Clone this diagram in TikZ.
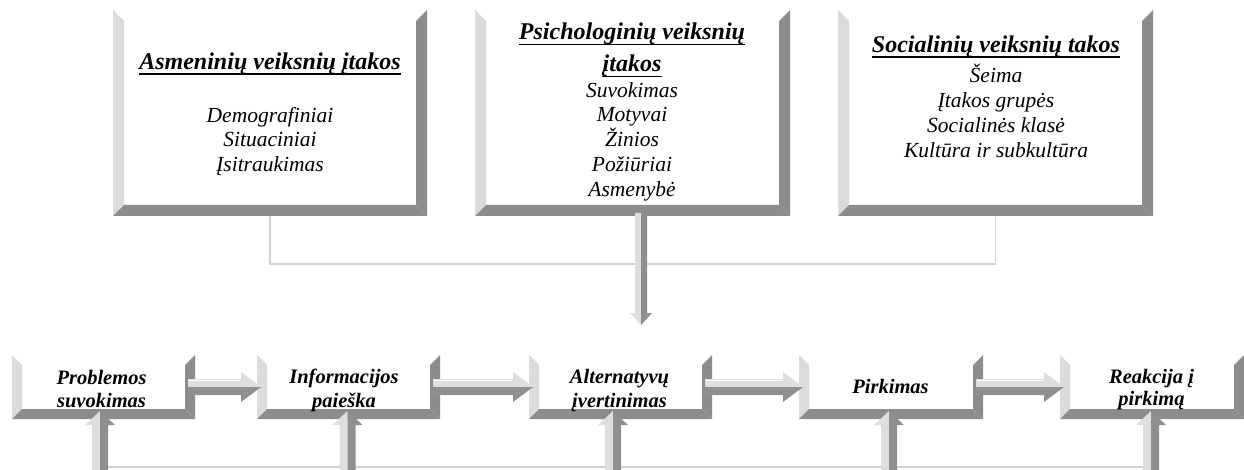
\documentclass[tikz,border=0pt]{standalone}
\usepackage{fontspec}
\setmainfont{Liberation Serif}
\usetikzlibrary{calc}
\definecolor{bvdark}{gray}{0.55}
\definecolor{bvlight}{gray}{0.86}
\definecolor{arlight}{gray}{0.87}
\definecolor{ardark}{gray}{0.56}
\definecolor{conn}{gray}{0.82}

% bevelled panel: #1 node name, #2 bevel depth (with unit)
\newcommand\bevelpanel[2]{%
  \fill[bvlight] (#1.north west) -- ([shift={(#2,-#2)}]#1.north west) -- ([shift={(#2,#2)}]#1.south west) -- (#1.south west) -- cycle;
  \fill[bvdark] (#1.north east) -- ([shift={(-#2,-#2)}]#1.north east) -- ([shift={(-#2,#2)}]#1.south east) -- (#1.south east) -- cycle;
  \fill[bvdark] (#1.south west) -- ([shift={(#2,#2)}]#1.south west) -- ([shift={(-#2,#2)}]#1.south east) -- (#1.south east) -- cycle;
}
% 3D arrows
\newcommand\arrowright[2]{%
  \fill[arlight] let \p1=(#1), \p2=(#2) in (\x1,\y1+8pt) -- (\x2-20pt,\y1+8pt) -- (\x2-20pt,\y1+15pt) -- (\x2,\y1) -- (\x1,\y1) -- cycle;
  \fill[ardark] let \p1=(#1), \p2=(#2) in (\x1,\y1-8pt) -- (\x2-20pt,\y1-8pt) -- (\x2-20pt,\y1-15pt) -- (\x2,\y1) -- (\x1,\y1) -- cycle;
  \draw[white, line width=1pt] let \p1=(#1), \p2=(#2) in (\x1+1pt,\y1+7pt) -- (\x2-21pt,\y1+7pt);
}
\newcommand\arrowup[2]{%
  \fill[arlight] let \p1=(#1), \p2=(#2) in (\x1-8pt,\y1) -- (\x1-8pt,\y2-14pt) -- (\x1-15pt,\y2-14pt) -- (\x1,\y2) -- (\x1,\y1) -- cycle;
  \fill[ardark] let \p1=(#1), \p2=(#2) in (\x1+8pt,\y1) -- (\x1+8pt,\y2-14pt) -- (\x1+15pt,\y2-14pt) -- (\x1,\y2) -- (\x1,\y1) -- cycle;
}
\newcommand\arrowdown[2]{%
  \fill[arlight] let \p1=(#1), \p2=(#2) in (\x1-6pt,\y1) -- (\x1-6pt,\y2+12pt) -- (\x1-11pt,\y2+12pt) -- (\x1,\y2) -- (\x1,\y1) -- cycle;
  \fill[ardark] let \p1=(#1), \p2=(#2) in (\x1+6pt,\y1) -- (\x1+6pt,\y2+12pt) -- (\x1+11pt,\y2+12pt) -- (\x1,\y2) -- (\x1,\y1) -- cycle;
}

\tikzset{
  panel/.style={rectangle, inner sep=0pt, outer sep=0pt, fill=white},
  toppanel/.style={panel, minimum height=206pt},
  botpanel/.style={panel, minimum height=64pt},
  ttl/.style={inner sep=0pt, anchor=base, font=\fontsize{24}{28}\selectfont\bfseries\itshape},
  itm/.style={inner sep=0pt, anchor=base, font=\fontsize{21.5}{25}\selectfont\itshape},
  stp/.style={inner sep=0pt, anchor=base, font=\fontsize{20.5}{24}\selectfont\bfseries\itshape},
  connline/.style={draw=conn, line width=1.5pt},
  uline/.style={line width=1.8pt},
}

\begin{document}
\begin{tikzpicture}[x=1pt, y=-1pt]
\fill[white] (0,0) rectangle (1244,470);
\useasboundingbox (0,0) rectangle (1244,470);

% top panels
\node[toppanel, minimum width=314pt] (p1) at (270,113) {};
\node[toppanel, minimum width=315pt] (p2) at (632.5,113) {};
\node[toppanel, minimum width=315pt] (p3) at (995.5,113) {};
% bottom panels
\node[botpanel, minimum width=183pt] (b1) at (103.5,387) {};
\node[botpanel, minimum width=183pt] (b2) at (348.5,387) {};
\node[botpanel, minimum width=183pt] (b3) at (620.5,387) {};
\node[botpanel, minimum width=184pt] (b4) at (891,387) {};
\node[botpanel, minimum width=184pt] (b5) at (1152,387) {};

% connector lines behind
\coordinate (jl) at (p1.south |- 0,264);
\coordinate (jr) at (p3.south |- 0,264);
\draw[connline] (p1.south) -- (jl) -- (jr) -- (p3.south);
\coordinate (u1) at (100,470);
\coordinate (u2) at (347.5,470);
\coordinate (u3) at (613,470);
\coordinate (u4) at (889,470);
\coordinate (u5) at (1151,470);
\coordinate (l1) at (100,467);
\coordinate (l5) at (1151,467);
\draw[connline] (l1) -- (l5);

% bevels
\foreach \n in {p1,p2,p3} {\bevelpanel{\n}{11pt}}
\foreach \n in {b1,b2,b3,b4,b5} {\bevelpanel{\n}{10pt}}

% texts, panel 1
\node[ttl] (p1t) at (270,70) {Asmeninių veiksnių įtakos};
\draw[uline] ([yshift=-4pt]p1t.base west) -- ([yshift=-4pt]p1t.base east);
\node[itm] (p1a) at (270,123) {Demografiniai};
\node[itm] (p1b) at (270,147) {Situaciniai};
\node[itm] (p1c) at (270,172) {Įsitraukimas};
% panel 2
\node[ttl] (p2t) at (632,40) {Psichologinių veiksnių};
\draw[uline] ([yshift=-4.5pt]p2t.base west) -- ([yshift=-4.5pt]p2t.base east);
\node[ttl] (p2u) at (632,72) {įtakos};
\draw[uline] ([yshift=-4.5pt]p2u.base west) -- ([yshift=-4.5pt]p2u.base east);
\node[itm] (p2a) at (632,98) {Suvokimas};
\node[itm] (p2b) at (632,122) {Motyvai};
\node[itm] (p2c) at (632,147) {Žinios};
\node[itm] (p2d) at (632,172) {Požiūriai};
\node[itm] (p2e) at (632,197) {Asmenybė};
% panel 3
\node[ttl] (p3t) at (996,53) {Socialinių veiksnių takos};
\draw[uline] ([yshift=-4pt]p3t.base west) -- ([yshift=-4pt]p3t.base east);
\node[itm] (p3a) at (996,83) {Šeima};
\node[itm] (p3b) at (996,108) {Įtakos grupės};
\node[itm] (p3c) at (996,133) {Socialinės klasė};
\node[itm] (p3d) at (996,158) {Kultūra ir subkultūra};

% bottom texts
\node[stp] (b1a) at (101.5,384) {Problemos};
\node[stp] (b1b) at (101.5,407) {suvokimas};
\node[stp] (b2a) at (344,383) {Informacijos};
\node[stp] (b2b) at (344,407) {paieška};
\node[stp] (b3a) at (619.5,383) {Alternatyvų};
\node[stp] (b3b) at (619.5,407) {įvertinimas};
\node[stp] (b4a) at (890.5,393) {Pirkimas};
\node[stp] (b5a) at (1151.5,383) {Reakcija į};
\node[stp] (b5b) at (1151.5,405) {pirkimą};

% central down arrow
\coordinate (ctop) at ($(p2.south)+(8.5pt,3pt)$);
\coordinate (ctip) at (641,325);
\arrowdown{ctop}{ctip}

% horizontal arrows between steps
\foreach \a/\b in {b1/b2, b2/b3, b3/b4, b4/b5} {
  \coordinate (hs) at ($(\a.east)+(-7pt,0pt)$);
  \coordinate (ht) at ($(\b.west)+(4pt,0pt)$);
  \arrowright{hs}{ht}
}

% up arrows into steps
\foreach \i in {1,...,5} {
  \coordinate (ut) at ($(u\i |- b\i.south)+(0pt,8pt)$);
  \arrowup{u\i}{ut}
}
\end{tikzpicture}
\end{document}
